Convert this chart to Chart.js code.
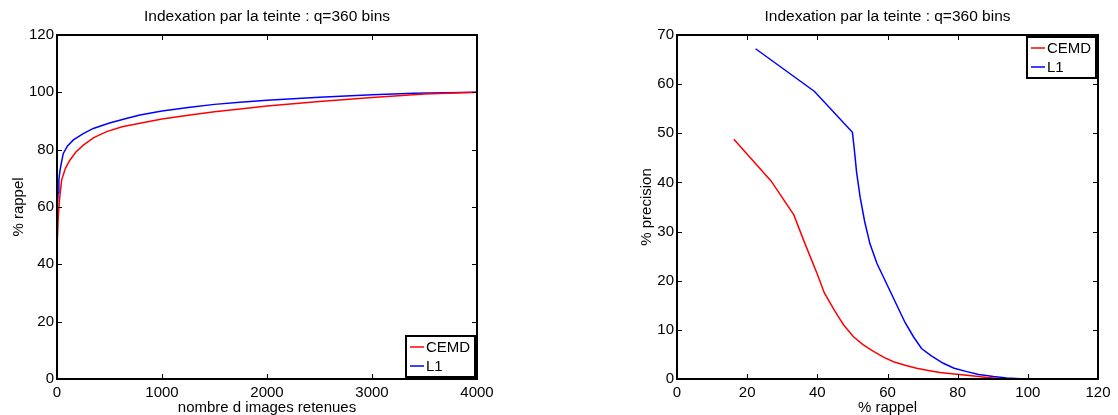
<!DOCTYPE html>
<html>
<head>
<meta charset="utf-8">
<script src="https://cdn.jsdelivr.net/npm/chart.js@4.4.0/dist/chart.umd.min.js"></script>
<style>
  body { margin: 0; background: #fff; }
  #wrap { position: relative; width: 1118px; height: 415px; }
  #c1 { position: absolute; left: 0; top: 0; }
  #c2 { position: absolute; left: 559px; top: 0; }
</style>
</head>
<body>
<div id="wrap">
  <canvas id="c1" width="559" height="415"></canvas>
  <canvas id="c2" width="559" height="415"></canvas>
</div>
<script>
// left chart : rappel vs nombre d images
var nbImages_cemd = [0, 1, 2, 5, 12, 25, 44, 80, 124, 180, 251, 350, 473, 620, 790, 1000, 1267, 1500, 1743, 2000, 2500, 3000, 3500, 4000];
var rappel_cemd   = [0, 30, 40, 48, 56.6, 63, 69.4, 73.5, 76.4, 79.2, 81.6, 84.2, 86.3, 88, 89.2, 90.7, 92.1, 93.2, 94.2, 95.2, 96.8, 98.2, 99.4, 100];
var nbImages_l1 = [0, 1, 2, 5, 10, 18, 29, 45, 60, 100, 156, 250, 346, 500, 650, 790, 1000, 1267, 1500, 1743, 2000, 2500, 3000, 3400, 4000];
var rappel_l1   = [0, 40, 50, 58, 65, 69.5, 72.9, 76, 78.7, 81.3, 83.4, 85.6, 87.4, 89.3, 90.8, 92.1, 93.5, 94.8, 95.8, 96.5, 97.2, 98.3, 99.2, 99.7, 100];

// right chart : precision vs rappel
var rappel2_cemd    = [16.2, 26.8, 33.3, 36.5, 39.9, 42, 45, 47.5, 50.3, 53, 56, 59, 61.7, 65, 68.3, 72, 75, 79, 82.6, 86, 88.3, 92, 95];
var precision_cemd  = [48.8, 40.3, 33.4, 27.5, 21.5, 17.5, 13.8, 11, 8.6, 7, 5.6, 4.4, 3.5, 2.8, 2.2, 1.7, 1.3, 1, 0.75, 0.5, 0.3, 0.1, 0];
var rappel2_l1      = [22.4, 39.2, 50, 50.5, 51.2, 52.2, 53.5, 55, 57, 59, 61, 63, 65, 67.4, 69.7, 72.5, 75.9, 79, 82.6, 86, 90.2, 94, 97.8, 100];
var precision_l1    = [67.2, 58.5, 50.2, 47, 42, 37, 32, 27.5, 23.5, 20.5, 17.5, 14.5, 11.5, 8.6, 6.2, 4.7, 3.2, 2.2, 1.5, 0.9, 0.5, 0.2, 0.05, 0];

var xTicks1 = [0, 1000, 2000, 3000, 4000];
var yTicks1 = [0, 20, 40, 60, 80, 100, 120];
var xTicks2 = [0, 20, 40, 60, 80, 100, 120];
var yTicks2 = [0, 10, 20, 30, 40, 50, 60, 70];

var titre = "Indexation par la teinte : q=360 bins";
var FONT = "'Liberation Sans', Arial, sans-serif";

Chart.defaults.color = '#000';
Chart.defaults.font.family = FONT;
Chart.defaults.font.size = 15;

function toPoints(xs, ys) {
  var pts = [];
  for (var i in xs) {
    pts.push({x: xs[i], y: ys[i]});
  }
  return pts;
}

// matlab style box, inward ticks, title and legend
var matlabPlugin = {
  id: 'matlab',
  afterDraw: function(chart, args, opts) {
    var ctx = chart.ctx;
    var a = chart.chartArea;
    var xs = chart.scales.x, ys = chart.scales.y;
    ctx.save();
    ctx.strokeStyle = '#000';
    ctx.lineWidth = 1;
    var tl = 5;
    xs.ticks.forEach(function(t) {
      var px = Math.round(xs.getPixelForValue(t.value)) + 0.5;
      ctx.beginPath();
      ctx.moveTo(px, a.top); ctx.lineTo(px, a.top + tl);
      ctx.moveTo(px, a.bottom); ctx.lineTo(px, a.bottom - tl);
      ctx.stroke();
    });
    ys.ticks.forEach(function(t) {
      var py = Math.round(ys.getPixelForValue(t.value)) + 0.5;
      ctx.beginPath();
      ctx.moveTo(a.left, py); ctx.lineTo(a.left + tl, py);
      ctx.moveTo(a.right, py); ctx.lineTo(a.right - tl, py);
      ctx.stroke();
    });
    ctx.lineWidth = 2;
    ctx.strokeRect(a.left, a.top, a.right - a.left, a.bottom - a.top);

    // title
    ctx.fillStyle = '#000';
    ctx.font = '15.5px ' + FONT;
    ctx.textAlign = 'center';
    ctx.textBaseline = 'middle';
    ctx.fillText(titre, (a.left + a.right) / 2, 17);

    // legend box
    ctx.font = '15px ' + FONT;
    var bw = 69, bh = 41;
    var bx = a.right - 2 - bw;
    var by = opts.where === 'top' ? a.top + 2 : a.bottom - 2 - bh;
    ctx.fillStyle = '#fff';
    ctx.fillRect(bx, by, bw, bh);
    ctx.lineWidth = 2;
    ctx.strokeStyle = '#000';
    ctx.strokeRect(bx, by, bw, bh);
    ctx.textAlign = 'left';
    chart.data.datasets.forEach(function(ds, i) {
      var ry = by + 11 + i * 19;
      ctx.strokeStyle = ds.borderColor;
      ctx.lineWidth = 1.5;
      ctx.beginPath();
      ctx.moveTo(bx + 4, ry); ctx.lineTo(bx + 18, ry);
      ctx.stroke();
      ctx.fillStyle = '#000';
      ctx.fillText(ds.label, bx + 20, ry + 1);
    });
    ctx.restore();
  }
};

function plainLabel(v) { return String(v); }

function makeChart(id, d1, d2, xt, yt, xTitle, yTitle, pad, yW, yTitlePad, legendWhere) {
  var ctx = document.getElementById(id);
  return new Chart(ctx, {
    type: 'scatter',
    data: {
      datasets: [
        {
          label: 'CEMD',
          data: d1,
          showLine: true,
          borderColor: '#ff0000',
          backgroundColor: '#ff0000',
          borderWidth: 1.5,
          pointRadius: 0,
          tension: 0
        },
        {
          label: 'L1',
          data: d2,
          showLine: true,
          borderColor: '#0000ff',
          backgroundColor: '#0000ff',
          borderWidth: 1.5,
          pointRadius: 0,
          tension: 0
        }
      ]
    },
    options: {
      responsive: false,
      animation: false,
      layout: { padding: pad },
      plugins: {
        legend: { display: false },
        tooltip: { enabled: false },
        matlab: { where: legendWhere }
      },
      scales: {
        x: {
          type: 'linear',
          min: xt[0],
          max: xt[xt.length - 1],
          grid: { display: false, drawTicks: false },
          border: { display: false },
          afterBuildTicks: function(s) { s.ticks = xt.map(function(v) { return {value: v}; }); },
          afterFit: function(s) { s.height = 36; },
          ticks: { padding: 5, maxRotation: 0, autoSkip: false, callback: plainLabel },
          title: { display: true, text: xTitle, padding: {top: 0, bottom: -2} }
        },
        y: {
          type: 'linear',
          min: yt[0],
          max: yt[yt.length - 1],
          grid: { display: false, drawTicks: false },
          border: { display: false },
          afterBuildTicks: function(s) { s.ticks = yt.map(function(v) { return {value: v}; }); },
          afterFit: function(s) { s.width = yW; },
          ticks: { padding: 3, autoSkip: false, callback: plainLabel },
          title: { display: true, text: yTitle, padding: {top: yTitlePad, bottom: 0} }
        }
      }
    },
    plugins: [matlabPlugin]
  });
}

makeChart('c1', toPoints(nbImages_cemd, rappel_cemd), toPoints(nbImages_l1, rappel_l1),
  xTicks1, yTicks1, 'nombre d images retenues', '% rappel',
  {left: 0, top: 35, right: 82, bottom: 0}, 57, 10, 'bottom');

makeChart('c2', toPoints(rappel2_cemd, precision_cemd), toPoints(rappel2_l1, precision_l1),
  xTicks2, yTicks2, '% rappel', '% precision',
  {left: 70, top: 35, right: 20, bottom: 0}, 48, 9, 'top');
</script>
</body>
</html>
